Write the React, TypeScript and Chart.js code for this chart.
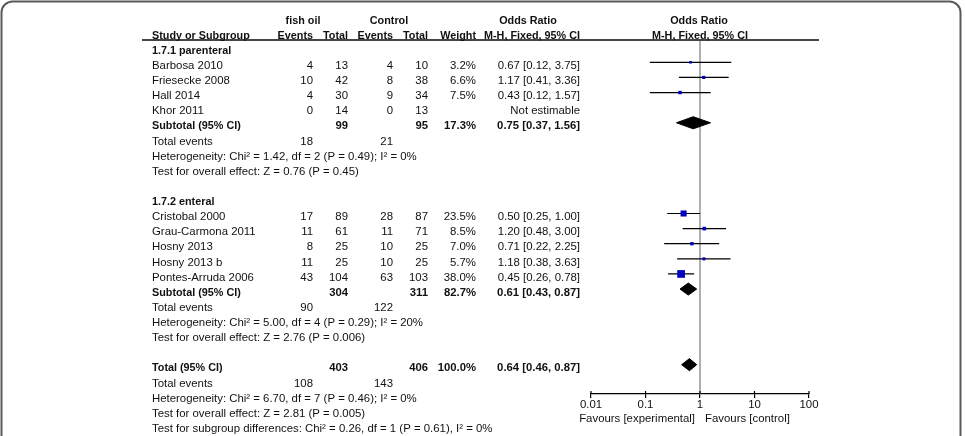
import React, { useEffect, useRef } from 'react';
import { Chart, registerables } from 'chart.js';

Chart.register(...registerables);

// ---------- data ----------
const subgroupLabels = ['1.7.1 parenteral', '1.7.2 enteral'];

const parenteralStudies = ['Barbosa 2010', 'Friesecke 2008', 'Hall 2014', 'Khor 2011'];
const parenteralFishEvents = [4, 10, 4, 0];
const parenteralFishTotal = [13, 42, 30, 14];
const parenteralCtrlEvents = [4, 8, 9, 0];
const parenteralCtrlTotal = [10, 38, 34, 13];
const parenteralWeight: (number | null)[] = [3.2, 6.6, 7.5, null];
const parenteralOR: (number | null)[] = [0.67, 1.17, 0.43, null];
const parenteralLow: (number | null)[] = [0.12, 0.41, 0.12, null];
const parenteralHigh: (number | null)[] = [3.75, 3.36, 1.57, null];

const enteralStudies = ['Cristobal 2000', 'Grau-Carmona 2011', 'Hosny 2013', 'Hosny 2013 b', 'Pontes-Arruda 2006'];
const enteralFishEvents = [17, 11, 8, 11, 43];
const enteralFishTotal = [89, 61, 25, 25, 104];
const enteralCtrlEvents = [28, 11, 10, 10, 63];
const enteralCtrlTotal = [87, 71, 25, 25, 103];
const enteralWeight: (number | null)[] = [23.5, 8.5, 7.0, 5.7, 38.0];
const enteralOR: (number | null)[] = [0.5, 1.2, 0.71, 1.18, 0.45];
const enteralLow: (number | null)[] = [0.25, 0.48, 0.22, 0.38, 0.26];
const enteralHigh: (number | null)[] = [1.0, 3.0, 2.25, 3.63, 0.78];

const subtotalFishTotal = [99, 304];
const subtotalCtrlTotal = [95, 311];
const subtotalWeight = [17.3, 82.7];
const subtotalOR = [0.75, 0.61];
const subtotalLow = [0.37, 0.43];
const subtotalHigh = [1.56, 0.87];
const subtotalFishEvents = [18, 90];
const subtotalCtrlEvents = [21, 122];
const subtotalHeterogeneity = [
  'Heterogeneity: Chi\u00b2 = 1.42, df = 2 (P = 0.49); I\u00b2 = 0%',
  'Heterogeneity: Chi\u00b2 = 5.00, df = 4 (P = 0.29); I\u00b2 = 20%',
];
const subtotalEffect = [
  'Test for overall effect: Z = 0.76 (P = 0.45)',
  'Test for overall effect: Z = 2.76 (P = 0.006)',
];

const overallFishTotal = 403;
const overallCtrlTotal = 406;
const overallWeight = 100.0;
const overallOR = 0.64;
const overallLow = 0.46;
const overallHigh = 0.87;
const overallFishEvents = 108;
const overallCtrlEvents = 143;
const overallNotes = [
  'Heterogeneity: Chi\u00b2 = 6.70, df = 7 (P = 0.46); I\u00b2 = 0%',
  'Test for overall effect: Z = 2.81 (P = 0.005)',
  'Test for subgroup differences: Chi\u00b2 = 0.26, df = 1 (P = 0.61), I\u00b2 = 0%',
];

const tickValues = [0.01, 0.1, 1, 10, 100];
const tickLabels = ['0.01', '0.1', '1', '10', '100'];
const favoursLabels = ['Favours [experimental]', 'Favours [control]'];

// ---------- layout helpers ----------
const FONT = '"Liberation Sans", Arial, sans-serif';
const FS = 11.4;
const FS_BOLD = 10.8;
const FS_BOLD_NUM = 11.3;
const COL = { name: 152, fishEv: 313, fishTot: 348, ctrlEv: 393, ctrlTot: 428, weight: 476, orText: 580 };
const TEXT_DY = 3.6;
const DIAMOND_HALF = 0.4;

type TextItem = { k: number; text: string; x: number; align: CanvasTextAlign; bold?: boolean; num?: boolean };

const fmtOR = (o: number, l: number, h: number) => `${o.toFixed(2)} [${l.toFixed(2)}, ${h.toFixed(2)}]`;
const fmtW = (w: number) => `${w.toFixed(1)}%`;

function buildLayout() {
  const texts: TextItem[] = [];
  const squares: { x: number; y: number; w: number }[] = [];
  const cis: { lo: number; hi: number; y: number }[] = [];
  const diamonds: { lo: number; mid: number; hi: number; y: number }[] = [];

  // headers
  texts.push({ k: 0, text: 'fish oil', x: 303, align: 'center', bold: true });
  texts.push({ k: 0, text: 'Control', x: 389, align: 'center', bold: true });
  texts.push({ k: 0, text: 'Odds Ratio', x: 528, align: 'center', bold: true });
  texts.push({ k: 1, text: 'Study or Subgroup', x: COL.name, align: 'left', bold: true });
  texts.push({ k: 1, text: 'Events', x: COL.fishEv, align: 'right', bold: true });
  texts.push({ k: 1, text: 'Total', x: COL.fishTot, align: 'right', bold: true });
  texts.push({ k: 1, text: 'Events', x: COL.ctrlEv, align: 'right', bold: true });
  texts.push({ k: 1, text: 'Total', x: COL.ctrlTot, align: 'right', bold: true });
  texts.push({ k: 1, text: 'Weight', x: COL.weight, align: 'right', bold: true });
  texts.push({ k: 1, text: 'M-H, Fixed, 95% CI', x: COL.orText, align: 'right', bold: true });

  const groups = [
    {
      names: parenteralStudies, fe: parenteralFishEvents, ft: parenteralFishTotal, ce: parenteralCtrlEvents,
      ct: parenteralCtrlTotal, w: parenteralWeight, or: parenteralOR, lo: parenteralLow, hi: parenteralHigh,
    },
    {
      names: enteralStudies, fe: enteralFishEvents, ft: enteralFishTotal, ce: enteralCtrlEvents,
      ct: enteralCtrlTotal, w: enteralWeight, or: enteralOR, lo: enteralLow, hi: enteralHigh,
    },
  ];

  let k = 2;
  groups.forEach((g, gi) => {
    texts.push({ k, text: subgroupLabels[gi], x: COL.name, align: 'left', bold: true });
    k++;
    g.names.forEach((name, i) => {
      texts.push({ k, text: name, x: COL.name, align: 'left' });
      texts.push({ k, text: String(g.fe[i]), x: COL.fishEv, align: 'right' });
      texts.push({ k, text: String(g.ft[i]), x: COL.fishTot, align: 'right' });
      texts.push({ k, text: String(g.ce[i]), x: COL.ctrlEv, align: 'right' });
      texts.push({ k, text: String(g.ct[i]), x: COL.ctrlTot, align: 'right' });
      const w = g.w[i], o = g.or[i], l = g.lo[i], h = g.hi[i];
      if (w != null) texts.push({ k, text: fmtW(w), x: COL.weight, align: 'right' });
      if (o != null && l != null && h != null) {
        texts.push({ k, text: fmtOR(o, l, h), x: COL.orText, align: 'right' });
        squares.push({ x: o, y: k, w: w as number });
        cis.push({ lo: l, hi: h, y: k });
      } else {
        texts.push({ k, text: 'Not estimable', x: COL.orText, align: 'right' });
      }
      k++;
    });
    texts.push({ k, text: 'Subtotal (95% CI)', x: COL.name, align: 'left', bold: true });
    texts.push({ k, text: String(subtotalFishTotal[gi]), x: COL.fishTot, align: 'right', bold: true, num: true });
    texts.push({ k, text: String(subtotalCtrlTotal[gi]), x: COL.ctrlTot, align: 'right', bold: true, num: true });
    texts.push({ k, text: fmtW(subtotalWeight[gi]), x: COL.weight, align: 'right', bold: true, num: true });
    texts.push({ k, text: fmtOR(subtotalOR[gi], subtotalLow[gi], subtotalHigh[gi]), x: COL.orText, align: 'right', bold: true, num: true });
    diamonds.push({ lo: subtotalLow[gi], mid: subtotalOR[gi], hi: subtotalHigh[gi], y: k });
    k++;
    texts.push({ k, text: 'Total events', x: COL.name, align: 'left' });
    texts.push({ k, text: String(subtotalFishEvents[gi]), x: COL.fishEv, align: 'right' });
    texts.push({ k, text: String(subtotalCtrlEvents[gi]), x: COL.ctrlEv, align: 'right' });
    k++;
    texts.push({ k, text: subtotalHeterogeneity[gi], x: COL.name, align: 'left' });
    k++;
    texts.push({ k, text: subtotalEffect[gi], x: COL.name, align: 'left' });
    k++;
    k++; // blank
  });

  texts.push({ k, text: 'Total (95% CI)', x: COL.name, align: 'left', bold: true });
  texts.push({ k, text: String(overallFishTotal), x: COL.fishTot, align: 'right', bold: true, num: true });
  texts.push({ k, text: String(overallCtrlTotal), x: COL.ctrlTot, align: 'right', bold: true, num: true });
  texts.push({ k, text: fmtW(overallWeight), x: COL.weight, align: 'right', bold: true, num: true });
  texts.push({ k, text: fmtOR(overallOR, overallLow, overallHigh), x: COL.orText, align: 'right', bold: true, num: true });
  diamonds.push({ lo: overallLow, mid: overallOR, hi: overallHigh, y: k });
  k++;
  texts.push({ k, text: 'Total events', x: COL.name, align: 'left' });
  texts.push({ k, text: String(overallFishEvents), x: COL.fishEv, align: 'right' });
  texts.push({ k, text: String(overallCtrlEvents), x: COL.ctrlEv, align: 'right' });
  k++;
  overallNotes.forEach((t) => {
    texts.push({ k, text: t, x: COL.name, align: 'left' });
    k++;
  });

  return { texts, squares, cis, diamonds };
}

export default function App() {
  const ref = useRef<HTMLCanvasElement | null>(null);

  useEffect(() => {
    document.body.style.margin = '0';
    const canvas = ref.current;
    if (!canvas) return;
    const { texts, squares, cis, diamonds } = buildLayout();

    const ciData: any[] = [];
    cis.forEach((c) => {
      ciData.push({ x: c.lo, y: c.y });
      ciData.push({ x: c.hi, y: c.y });
      ciData.push({ x: c.hi, y: null });
    });

    const diamondSets = diamonds.map((d) => ({
      type: 'line' as const,
      data: [
        { x: d.lo, y: d.y },
        { x: d.mid, y: d.y - DIAMOND_HALF },
        { x: d.hi, y: d.y },
        { x: d.mid, y: d.y + DIAMOND_HALF },
        { x: d.lo, y: d.y },
      ],
      borderColor: '#000',
      backgroundColor: '#000',
      borderWidth: 1,
      pointRadius: 0,
      tension: 0,
      fill: 'shape',
      order: 0,
    }));

    const tablePlugin = {
      id: 'forestTable',
      beforeDraw(chart: any) {
        const c = chart.ctx;
        c.save();
        c.fillStyle = '#fff';
        c.fillRect(0, 0, chart.width, chart.height);
        // outer frame
        c.strokeStyle = '#5a5a5a';
        c.lineWidth = 2;
        const l = 1.5, t = 1.5, r = 960.5, b = 470, rad = 11;
        c.beginPath();
        c.moveTo(l, b);
        c.lineTo(l, t + rad);
        c.arcTo(l, t, l + rad, t, rad);
        c.lineTo(r - rad, t);
        c.arcTo(r, t, r, t + rad, rad);
        c.lineTo(r, b);
        c.stroke();
        c.restore();
      },
      beforeDatasetsDraw(chart: any) {
        const c = chart.ctx;
        const xs = chart.scales.x;
        const area = chart.chartArea;
        const x1 = xs.getPixelForValue(1);
        c.save();
        c.strokeStyle = '#7a7a7a';
        c.lineWidth = 1.2;
        c.beginPath();
        c.moveTo(x1, area.top);
        c.lineTo(x1, area.bottom);
        c.stroke();
        c.restore();
      },
      afterDraw(chart: any) {
        const c = chart.ctx;
        const xs = chart.scales.x;
        const ys = chart.scales.y;
        const area = chart.chartArea;
        c.save();
        // header rule
        c.strokeStyle = '#454545';
        c.lineWidth = 2;
        c.beginPath();
        c.moveTo(142, area.top);
        c.lineTo(819, area.top);
        c.stroke();
        // upward tick marks
        c.strokeStyle = '#000';
        c.lineWidth = 1.2;
        tickValues.forEach((v) => {
          const px = xs.getPixelForValue(v);
          c.beginPath();
          c.moveTo(px, area.bottom - 3);
          c.lineTo(px, area.bottom);
          c.stroke();
        });
        // table text
        c.fillStyle = '#111';
        c.textBaseline = 'middle';
        texts.forEach((t) => {
          c.font = t.bold ? `bold ${t.num ? FS_BOLD_NUM : FS_BOLD}px ${FONT}` : `${FS}px ${FONT}`;
          c.textAlign = t.align;
          c.fillText(t.text, t.x, ys.getPixelForValue(t.k) + TEXT_DY);
        });
        // right column header
        const xc = xs.getPixelForValue(1);
        c.font = `bold ${FS_BOLD}px ${FONT}`;
        c.textAlign = 'center';
        c.fillText('Odds Ratio', xc - 1, ys.getPixelForValue(0) + TEXT_DY);
        c.fillText('M-H, Fixed, 95% CI', xc, ys.getPixelForValue(1) + TEXT_DY);
        // favours labels
        c.font = `${FS}px ${FONT}`;
        const fy = area.bottom + 25;
        c.textAlign = 'right';
        c.fillText(favoursLabels[0], xc - 5, fy);
        c.textAlign = 'left';
        c.fillText(favoursLabels[1], xc + 5, fy);
        c.restore();
      },
    };

    const chart = new Chart(canvas, {
      type: 'scatter',
      data: {
        datasets: [
          {
            type: 'scatter',
            data: squares.map((s) => ({ x: s.x, y: s.y })),
            pointStyle: 'rect',
            pointRadius: squares.map((s) => Math.max(2.6, 1.25 * Math.sqrt(s.w)) / Math.SQRT2),
            backgroundColor: '#0000c0',
            borderColor: '#0000c0',
            borderWidth: 0,
            order: 0,
          },
          {
            type: 'line',
            data: ciData,
            borderColor: '#000',
            borderWidth: 1.2,
            pointRadius: 0,
            spanGaps: false,
            fill: false,
            order: 1,
          },
          ...diamondSets,
        ] as any,
      },
      options: {
        animation: false,
        responsive: false,
        devicePixelRatio: 1,
        events: [],
        layout: { padding: { left: 591, right: 156, top: 40, bottom: 0 } },
        plugins: { legend: { display: false }, tooltip: { enabled: false } },
        scales: {
          x: {
            type: 'logarithmic',
            min: 0.01,
            max: 100,
            position: 'bottom',
            afterBuildTicks: (scale: any) => {
              scale.ticks = tickValues.map((v) => ({ value: v }));
            },
            afterFit: (scale: any) => {
              scale.height = 42;
            },
            ticks: {
              callback: (_v: any, i: number) => tickLabels[i],
              font: { family: FONT, size: FS },
              color: '#111',
              padding: 0,
              maxRotation: 0,
              autoSkip: false,
            },
            grid: {
              display: true,
              drawOnChartArea: false,
              drawTicks: true,
              tickLength: 4,
              color: '#000',
              lineWidth: 1.2,
            },
            border: { display: true, color: '#000', width: 1.2 },
          },
          y: {
            type: 'linear',
            reverse: true,
            min: 1.525,
            max: 24.94,
            display: false,
          },
        },
      } as any,
      plugins: [tablePlugin],
    });

    return () => chart.destroy();
  }, []);

  return (
    <div style={{ position: 'fixed', left: 0, top: 0, width: 965, height: 436 }}>
      <canvas ref={ref} width={965} height={436} style={{ display: 'block', width: 965, height: 436 }} />
    </div>
  );
}
